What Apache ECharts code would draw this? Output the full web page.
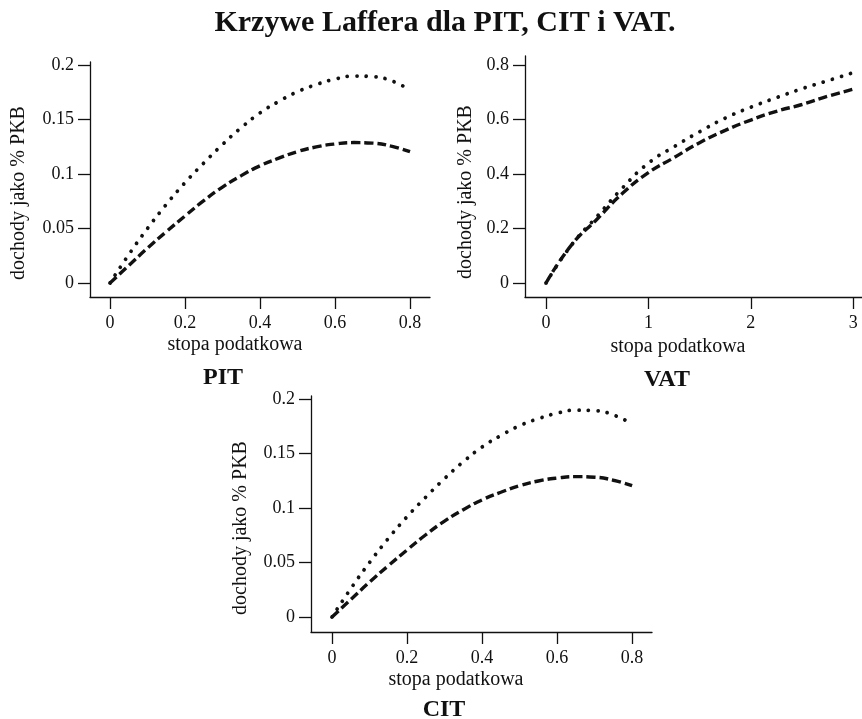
<!DOCTYPE html>
<html>
<head>
<meta charset="utf-8">
<script src="https://cdn.jsdelivr.net/npm/echarts@6/dist/echarts.min.js"></script>
<style>
html,body{margin:0;padding:0;background:#fff;}
#chart{width:862px;height:719px;}
</style>
</head>
<body>
<div id="chart"></div>
<script>
// ---- data ----
const pitRate   = [0,0.05,0.1,0.15,0.2,0.25,0.3,0.35,0.4,0.45,0.5,0.55,0.6,0.65,0.7,0.75,0.8];
const pitDotted = [0,0.026,0.05,0.072,0.092,0.11,0.127,0.1425,0.156,0.1665,0.1755,0.182,0.187,0.1898,0.1893,0.1855,0.177];
const pitDashed = [0,0.016,0.032,0.047,0.0615,0.0755,0.088,0.0985,0.1075,0.1145,0.1205,0.1248,0.1275,0.1288,0.1283,0.1255,0.1205];

const citRate   = [0,0.05,0.1,0.15,0.2,0.25,0.3,0.35,0.4,0.45,0.5,0.55,0.6,0.65,0.7,0.75,0.8];
const citDotted = [0,0.026,0.05,0.072,0.092,0.11,0.127,0.1425,0.156,0.1665,0.1755,0.182,0.187,0.1898,0.1893,0.1855,0.177];
const citDashed = [0,0.016,0.032,0.047,0.0615,0.0755,0.088,0.0985,0.1075,0.1145,0.1205,0.1248,0.1275,0.1288,0.1283,0.1255,0.1205];

const vatRate   = [0,0.25,0.5,0.75,1,1.25,1.5,1.75,2,2.25,2.5,2.75,3];
const vatDotted = [0,0.14,0.245,0.35,0.44,0.5,0.555,0.605,0.645,0.68,0.713,0.742,0.772];
const vatDashed = [0,0.14,0.235,0.33,0.405,0.46,0.515,0.56,0.598,0.63,0.655,0.685,0.711];

const smallXTicks = [0,0.2,0.4,0.6,0.8];
const smallYTicks = [0,0.05,0.1,0.15,0.2];
const vatXTicks = [0,1,2,3];
const vatYTicks = [0,0.2,0.4,0.6,0.8];

const titleText = 'Krzywe Laffera dla PIT, CIT i VAT.';
const xName = 'stopa podatkowa';
const yName = 'dochody jako % PKB';
const panelNames = ['PIT','VAT','CIT'];

// ---- helpers ----
const FONT = '"Liberation Serif", "DejaVu Serif", serif';
const INK = '#111';
function pairs(xs, ys){ return xs.map((x,i)=>[x, ys[i]]); }
function xAxis(gi, min, max, ticks){
  return {type:'value', gridIndex:gi, min:min, max:max, position:'bottom',
    axisLine:{show:true, onZero:false, lineStyle:{color:INK, width:1.3}},
    axisTick:{show:true, length:12, inside:false, customValues:ticks, lineStyle:{color:INK, width:1.3}},
    axisLabel:{show:true, customValues:ticks, margin:17, fontFamily:FONT, fontSize:18, color:INK},
    splitLine:{show:false}};
}
function yAxis(gi, min, max, ticks){
  return {type:'value', gridIndex:gi, min:min, max:max, position:'left',
    axisLine:{show:true, onZero:false, lineStyle:{color:INK, width:1.3}},
    axisTick:{show:true, length:12, inside:false, customValues:ticks, lineStyle:{color:INK, width:1.3}},
    axisLabel:{show:true, customValues:ticks, margin:16, fontFamily:FONT, fontSize:18, color:INK},
    splitLine:{show:false}};
}
function dotted(gi, data){
  return {type:'line', xAxisIndex:gi, yAxisIndex:gi, data:data, smooth:true, showSymbol:false, silent:true,
    lineStyle:{color:INK, width:3.8, type:[0.01, 9.5], cap:'round'}};
}
function dashed(gi, data){
  return {type:'line', xAxisIndex:gi, yAxisIndex:gi, data:data, smooth:true, showSymbol:false, silent:true,
    lineStyle:{color:INK, width:3.4, type:[9, 4], cap:'butt'}};
}
function txt(x, y, s, size, bold, rot){
  return {type:'text', x:x, y:y, rotation: rot ? Math.PI/2 : 0,
    style:{text:s, fontFamily:FONT, fontSize:size, fontWeight: bold ? 'bold' : 'normal',
      fill:INK, textAlign:'center', textVerticalAlign:'middle'}};
}

const chart = echarts.init(document.getElementById('chart'), null, {renderer:'canvas'});
chart.setOption({
  backgroundColor:'#fff',
  animation:false,
  grid:[
    {left:90, top:62, width:340, height:235},
    {left:525, top:56, width:337, height:241},
    {left:311, top:396, width:341, height:236}
  ],
  xAxis:[
    xAxis(0, -0.0533, 0.8533, smallXTicks),
    xAxis(1, -0.205, 3.086, vatXTicks),
    xAxis(2, -0.056, 0.853, smallXTicks)
  ],
  yAxis:[
    yAxis(0, -0.01284, 0.2027, smallYTicks),
    yAxis(1, -0.0514, 0.833, vatYTicks),
    yAxis(2, -0.01376, 0.2028, smallYTicks)
  ],
  series:[
    dotted(0, pairs(pitRate, pitDotted)),
    dashed(0, pairs(pitRate, pitDashed)),
    dotted(1, pairs(vatRate, vatDotted)),
    dashed(1, pairs(vatRate, vatDashed)),
    dotted(2, pairs(citRate, citDotted)),
    dashed(2, pairs(citRate, citDashed))
  ],
  graphic:[
    txt(445, 23, titleText, 30, true),
    txt(235, 345, xName, 20, false),
    txt(223, 378, panelNames[0], 24, true),
    txt(678, 347, xName, 20, false),
    txt(667, 380, panelNames[1], 24, true),
    txt(456, 680, xName, 20, false),
    txt(444, 710, panelNames[2], 24, true),
    txt(19, 193, yName, 20, false, true),
    txt(466, 192, yName, 20, false, true),
    txt(241, 528, yName, 20, false, true)
  ]
});
</script>
</body>
</html>
